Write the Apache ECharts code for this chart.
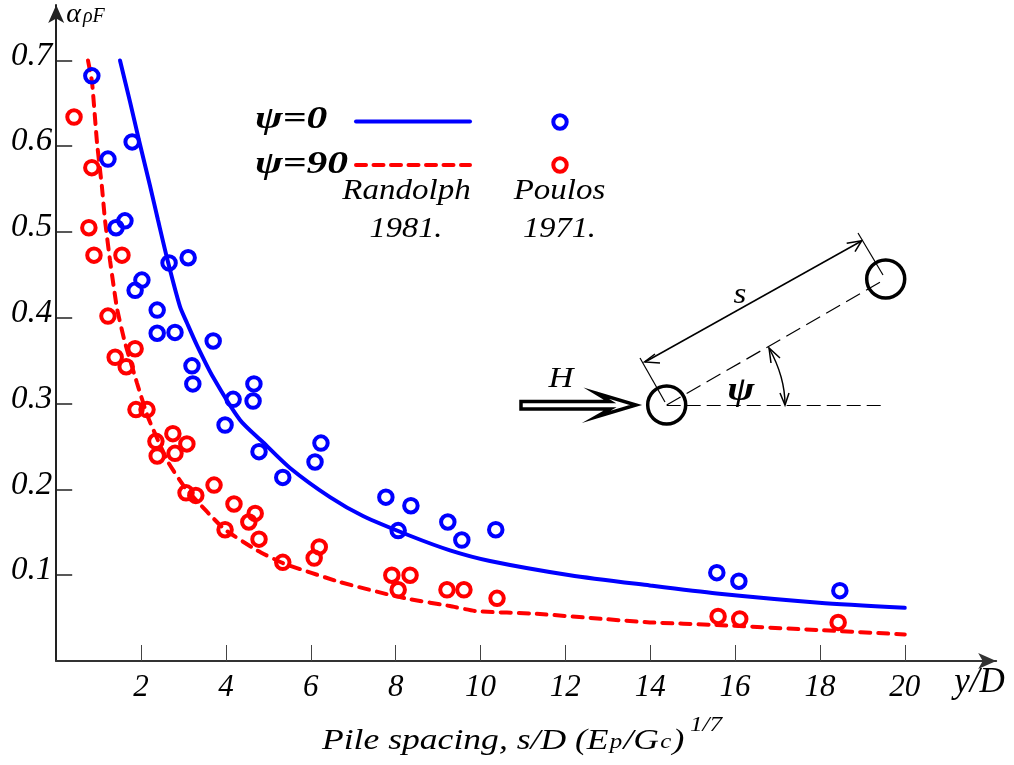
<!DOCTYPE html>
<html><head><meta charset="utf-8">
<style>html,body{margin:0;padding:0;background:#fff}#c{width:1014px;height:765px}</style>
<script src="https://cdn.jsdelivr.net/npm/echarts@6/dist/echarts.min.js"></script>
</head><body><div id="c"></div>
<script>
const xTicks = [2,4,6,8,10,12,14,16,18,20];
const yTicks = [0.1,0.2,0.3,0.4,0.5,0.6,0.7];
const randolphPsi0 = [[1.504,.700],[1.739,.652],[1.951,.607],[2.211,.554],[2.399,.514],[2.635,.465],[2.918,.413],[3.083,.394],[3.318,.368],[3.696,.331],[4.332,.281],[4.874,.255],[5.51,.225],[6.453,.191],[7.231,.169],[8.339,.146],[9.281,.129],[10.224,.1166],[12.11,.100],[13.99,.088],[15.57,.0787],[17.98,.068],[20,.062]];
const randolphPsi90 = [[.749,.700],[.844,.675],[.962,.604],[1.079,.552],[1.15,.514],[1.268,.467],[1.433,.411],[1.621,.371],[1.904,.324],[2.164,.284],[2.635,.232],[3.036,.202],[3.554,.174],[3.978,.153],[4.732,.129],[5.345,.114],[6.689,.092],[7.868,.077],[8.339,.072],[9.281,.064],[9.917,.058],[11.33,.055],[12.89,.049],[13.99,.045],[15.57,.042],[17.98,.036],[20,.031]];
const poulosPsi0 = [[.84,.682],[1.22,.585],[1.79,.605],[1.41,.505],[1.62,.513],[1.86,.432],[2.02,.444],[2.66,.464],[3.11,.470],[2.38,.409],[2.38,.382],[2.80,.383],[3.70,.373],[3.2,.344],[3.22,.323],[4.66,.323],[4.64,.303],[4.17,.305],[3.98,.275],[4.78,.244],[5.34,.214],[6.1,.232],[6.24,.254],[7.77,.191],[8.36,.181],[8.06,.152],[9.23,.162],[9.56,.141],[10.36,.153],[15.57,.103],[16.09,.093],[18.47,.082]];
const poulosPsi90 = [[.42,.634],[.84,.575],[.77,.505],[.89,.473],[1.55,.473],[1.22,.402],[1.39,.354],[1.65,.343],[1.86,.364],[1.88,.293],[2.14,.293],[2.35,.256],[2.38,.239],[2.75,.265],[2.80,.242],[3.08,.253],[3.06,.196],[3.29,.193],[3.72,.205],[3.98,.153],[4.19,.183],[4.54,.162],[4.69,.172],[4.78,.142],[5.34,.115],[6.08,.120],[6.2,.133],[7.91,.100],[8.34,.100],[8.06,.083],[9.21,.083],[9.61,.083],[10.39,.073],[15.6,.052],[16.11,.049],[18.43,.045]];

const BLUE='#0000ff', RED='#ff0000', SERIF='"Liberation Serif"';
const chart = echarts.init(document.getElementById('c'),null,{renderer:'canvas'});
const itxt=(x,y,t,size,sx,extra)=>({type:'text',x,y,scaleX:sx||1,style:Object.assign({text:t,font:`italic ${size}px ${SERIF}`,fill:'#000',align:'center',verticalAlign:'middle'},extra||{})});
const ln=(x1,y1,x2,y2,w,extra)=>({type:'line',shape:{x1,y1,x2,y2},style:Object.assign({stroke:'#000',lineWidth:w},extra||{})});
const poly=(pts,w)=>({type:'polyline',shape:{points:pts},style:{stroke:'#000',lineWidth:w,fill:null}});
const ring=(x,y,r,c,w)=>({type:'circle',shape:{cx:x,cy:y,r},style:{stroke:c,lineWidth:w,fill:null}});
chart.setOption({
  animation:false, backgroundColor:'#fff',
  grid:{left:56.2,top:5,width:940,height:656,containLabel:false},
  xAxis:{type:'value',min:0,max:22.155,splitLine:{show:false},
    name:'y/D',nameLocation:'end',nameGap:-42,
    nameTextStyle:{fontFamily:SERIF,fontStyle:'italic',fontSize:35,color:'#000',align:'left',verticalAlign:'top',lineHeight:44},
    axisLine:{onZero:false,symbol:['none','arrow'],symbolSize:[12,18],lineStyle:{color:'#333',width:2}},
    axisTick:{customValues:xTicks,inside:true,length:16,lineStyle:{color:'#444',width:1}},
    axisLabel:{customValues:xTicks,margin:11,fontFamily:SERIF,fontStyle:'italic',fontSize:31,color:'#000',formatter:v=>String(v)}},
  yAxis:{type:'value',min:0,max:0.7646,splitLine:{show:false},
    name:'{a|α}{b|ρF}',nameLocation:'end',nameGap:-10,
    nameTextStyle:{align:'left',verticalAlign:'middle',padding:[0,0,0,10],rich:{a:{fontFamily:SERIF,fontStyle:'italic',fontSize:28,color:'#000'},b:{fontFamily:SERIF,fontStyle:'italic',fontSize:20,color:'#000',padding:[3,0,0,2]}}},
    axisLine:{onZero:false,symbol:['none','arrow'],symbolSize:[12,18],lineStyle:{color:'#222',width:2}},
    axisTick:{customValues:yTicks,inside:true,length:16,lineStyle:{color:'#222',width:1.5}},
    axisLabel:{customValues:yTicks,margin:4,verticalAlign:'bottom',lineHeight:9,fontFamily:SERIF,fontStyle:'italic',fontSize:33,color:'#000',formatter:v=>v.toFixed(1)}},
  series:[
    {name:'ψ=0 Randolph 1981',type:'line',data:randolphPsi0,showSymbol:false,smooth:0.25,lineStyle:{color:BLUE,width:4,cap:'round'},z:2},
    {name:'ψ=90 Randolph 1981',type:'line',data:randolphPsi90,showSymbol:false,smooth:0.15,lineStyle:{color:RED,width:4,type:[10,8],cap:'round'},z:2},
    {name:'ψ=0 Poulos 1971',type:'scatter',data:poulosPsi0,symbol:'circle',symbolSize:13.5,itemStyle:{color:'rgba(0,0,0,0)',borderColor:BLUE,borderWidth:4,opacity:1},z:3},
    {name:'ψ=90 Poulos 1971',type:'scatter',data:poulosPsi90,symbol:'circle',symbolSize:13.5,itemStyle:{color:'rgba(0,0,0,0)',borderColor:RED,borderWidth:4,opacity:1},z:3}
  ],
  graphic:{elements:[
    {type:'text',x:255,y:120,scaleX:1.3,style:{text:'ψ=0',font:`italic bold 32px ${SERIF}`,fill:'#000',align:'left',verticalAlign:'middle'}},
    {type:'text',x:255,y:165,scaleX:1.3,style:{text:'ψ=90',font:`italic bold 32px ${SERIF}`,fill:'#000',align:'left',verticalAlign:'middle'}},
    ln(356,121.5,470,121.5,4,{stroke:BLUE,lineCap:'round'}),
    ln(356,165,470,165,4,{stroke:RED,lineCap:'round',lineDash:[10,7.5]}),
    ring(560,122,6.7,BLUE,4), ring(560,165,6.7,RED,4),
    itxt(406.5,191,'Randolph',30,1.1), itxt(406,229,'1981.',30,1.08),
    itxt(559.5,191,'Poulos',30,1.1), itxt(559.5,229,'1971.',30,1.08),
    {type:'text',x:322,y:741,scaleX:1.186,style:{text:'Pile spacing, s/D (E{s|p}/G{s|c})',font:`italic 30px ${SERIF}`,fill:'#000',align:'left',verticalAlign:'middle',rich:{s:{font:`italic 21px ${SERIF}`,fill:'#000',padding:[2,1,0,1]}}}},
    itxt(706,725,'1/7',21,1.2),
    ring(666.7,405,19,'#000',3.5), ring(885.7,279,19,'#000',3.5),
    ln(666.7,405.5,886,405.5,1.2,{lineDash:[14,6]}),
    ln(666.7,405,885.7,279,1.2,{lineDash:[16,7]}),
    ln(640,358,665,402,1.2), ln(858,233,883,275,1.2),
    ln(645,362,861.5,241,1.5),
    poly([[660,363],[644.5,362],[655,354]],1.5),
    poly([[846.7,243.3],[861.7,240.7],[855,251.7]],1.5),
    {type:'bezierCurve',shape:{x1:769,y1:348,cpx1:779,cpy1:366,x2:785,y2:405,cpx2:785,cpy2:385},style:{stroke:'#000',lineWidth:1.5,fill:null}},
    poly([[771,363],[769,348],[780,358]],1.5),
    poly([[780,393],[785,405],[789,393]],1.5),
    {type:'polygon',shape:{points:[[521,401.5],[610,401.5],[596,393],[636,405],[596,417],[610,409],[521,409]]},style:{stroke:'#000',lineWidth:3.5,fill:'#fff',lineJoin:'miter'}},
    itxt(561,379,'H',30,1.15),
    itxt(740,295,'s',30,1.1),
    {type:'text',x:741,y:391,scaleX:1.2,style:{text:'ψ',font:`italic bold 34px ${SERIF}`,fill:'#000',align:'center',verticalAlign:'middle'}}
  ]}
});
</script></body></html>
